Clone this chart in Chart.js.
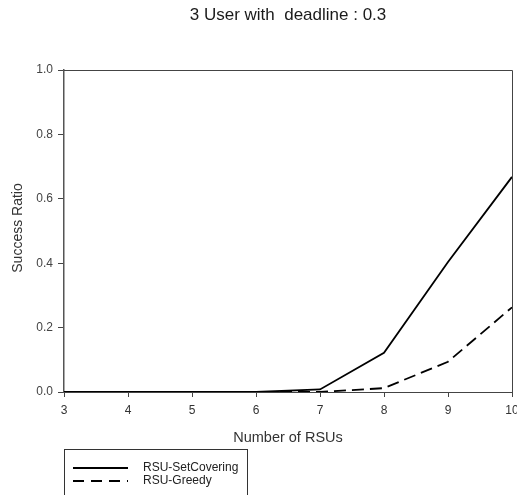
<!DOCTYPE html>
<html>
<head>
<meta charset="utf-8">
<script src="https://cdn.jsdelivr.net/npm/chart.js@4"></script>
<style>
  html, body { margin: 0; padding: 0; background: #fff; }
  #wrap { width: 517px; height: 495px; }
</style>
</head>
<body>
<div id="wrap"><canvas id="chart" width="517" height="495"></canvas></div>
<script>
// values
const rsuCounts = [3, 4, 5, 6, 7, 8, 9, 10];
const setCovering = [0, 0, 0, 0, 0.008, 0.122, 0.404, 0.668];
const greedy = [0, 0, 0, 0, 0, 0.012, 0.094, 0.263];
const yTicks = [0, 0.2, 0.4, 0.6, 0.8, 1.0];

const titleText = '3 User with  deadline : 0.3';
const xTitle = 'Number of RSUs';
const yTitle = 'Success Ratio';
const seriesNames = ['RSU-SetCovering', 'RSU-Greedy'];

const FONT = '"Liberation Sans", Arial, sans-serif';

const toPoints = (vals) => rsuCounts.map((x, i) => ({ x: x, y: vals[i] }));

// title, axis titles, plot frame and the boxed legend
const decorations = {
    id: 'decorations',
    afterDraw(chart) {
        const ctx = chart.ctx;
        const area = chart.chartArea;
        ctx.save();

        ctx.strokeStyle = '#444';
        ctx.lineWidth = 1;
        ctx.beginPath();
        ctx.moveTo(area.left, area.top + 0.5);
        ctx.lineTo(area.right + 0.5, area.top + 0.5);
        ctx.lineTo(area.right + 0.5, area.bottom);
        ctx.stroke();

        ctx.fillStyle = '#1a1a1a';
        ctx.textAlign = 'center';
        ctx.textBaseline = 'middle';
        ctx.font = '17px ' + FONT;
        ctx.fillText(titleText, 288, 15);

        ctx.fillStyle = '#333';
        ctx.font = '14.5px ' + FONT;
        ctx.fillText(xTitle, 288, 438);

        ctx.font = '14px ' + FONT;
        ctx.translate(18, 228);
        ctx.rotate(-Math.PI / 2);
        ctx.fillText(yTitle, 0, 0);
        ctx.setTransform(1, 0, 0, 1, 0, 0);

        // legend
        ctx.lineWidth = 1;
        ctx.strokeStyle = '#333';
        ctx.strokeRect(64.5, 449.5, 183, 60);
        ctx.strokeStyle = '#000';
        ctx.lineWidth = 1.8;
        ctx.beginPath();
        ctx.moveTo(73, 468);
        ctx.lineTo(128, 468);
        ctx.stroke();
        ctx.setLineDash([11, 7]);
        ctx.beginPath();
        ctx.moveTo(73, 481);
        ctx.lineTo(128, 481);
        ctx.stroke();
        ctx.setLineDash([]);

        ctx.fillStyle = '#222';
        ctx.textAlign = 'left';
        ctx.font = '12px ' + FONT;
        ctx.fillText(seriesNames[0], 143, 468);
        ctx.fillText(seriesNames[1], 143, 481);
        ctx.restore();
    }
};

new Chart(document.getElementById('chart'), {
    type: 'line',
    data: {
        datasets: [
            {
                label: seriesNames[0],
                data: toPoints(setCovering),
                borderColor: '#000',
                borderWidth: 1.8,
                pointRadius: 0,
                tension: 0,
                fill: false,
            },
            {
                label: seriesNames[1],
                data: toPoints(greedy),
                borderColor: '#000',
                borderWidth: 1.8,
                borderDash: [12, 6],
                pointRadius: 0,
                tension: 0,
                fill: false,
            },
        ],
    },
    options: {
        responsive: false,
        animation: false,
        layout: { padding: { top: 70, right: 5, left: 0, bottom: 0 } },
        plugins: {
            legend: { display: false },
            title: { display: false },
            tooltip: { enabled: false },
        },
        scales: {
            x: {
                type: 'linear',
                min: 3,
                max: 10,
                grid: { drawOnChartArea: false, drawTicks: true, tickLength: 5, color: '#444' },
                border: { color: '#444', width: 1 },
                ticks: {
                    stepSize: 1,
                    padding: 6,
                    color: '#333',
                    font: { family: FONT, size: 12 },
                    maxRotation: 0,
                },
                afterFit: (scale) => {
                    scale.height = 103;
                    scale.paddingLeft = 0;
                    scale.paddingRight = 0;
                },
            },
            y: {
                min: 0,
                max: 1,
                grid: { drawOnChartArea: false, drawTicks: true, tickLength: 6, color: '#444' },
                border: { color: '#555', width: 1.5 },
                afterBuildTicks: (scale) => {
                    scale.ticks = yTicks.map((v) => ({ value: v }));
                },
                ticks: {
                    padding: 5,
                    color: '#444',
                    font: { family: FONT, size: 12 },
                    callback: (v) => v.toFixed(1),
                },
                afterFit: (scale) => {
                    scale.width = 64;
                    scale.paddingTop = 0;
                    scale.paddingBottom = 0;
                },
            },
        },
    },
    plugins: [decorations],
});
</script>
</body>
</html>
